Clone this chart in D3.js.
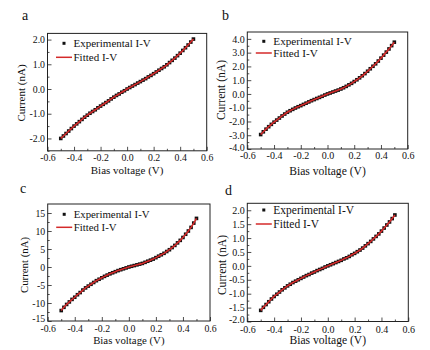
<!DOCTYPE html>
<html><head><meta charset="utf-8">
<script src="https://cdn.jsdelivr.net/npm/d3@7"></script>
<style>body{margin:0;background:#fff}svg{display:block}</style>
</head><body>
<svg id="c" width="430" height="350"></svg>
<script>
const voltage = [-0.50,-0.48,-0.46,-0.44,-0.42,-0.40,-0.38,-0.36,-0.34,-0.32,-0.30,-0.28,-0.26,-0.24,-0.22,-0.20,-0.18,-0.16,-0.14,-0.12,-0.10,-0.08,-0.06,-0.04,-0.02,0.00,0.02,0.04,0.06,0.08,0.10,0.12,0.14,0.16,0.18,0.20,0.22,0.24,0.26,0.28,0.30,0.32,0.34,0.36,0.38,0.40,0.42,0.44,0.46,0.48,0.50];
const currentA = [-2.00,-1.90,-1.80,-1.70,-1.60,-1.50,-1.41,-1.32,-1.23,-1.14,-1.06,-0.98,-0.91,-0.84,-0.76,-0.69,-0.62,-0.55,-0.48,-0.40,-0.33,-0.26,-0.20,-0.13,-0.07,0.00,0.06,0.12,0.18,0.24,0.30,0.36,0.42,0.49,0.55,0.62,0.69,0.76,0.83,0.90,0.98,1.07,1.16,1.25,1.35,1.45,1.56,1.67,1.78,1.90,2.02];
const currentB = [-2.95,-2.75,-2.56,-2.38,-2.21,-2.05,-1.90,-1.75,-1.60,-1.46,-1.33,-1.22,-1.12,-1.02,-0.93,-0.85,-0.76,-0.67,-0.58,-0.49,-0.41,-0.33,-0.25,-0.17,-0.08,0.00,0.07,0.14,0.21,0.28,0.36,0.45,0.55,0.66,0.77,0.90,1.03,1.17,1.32,1.48,1.65,1.83,2.01,2.19,2.39,2.60,2.82,3.04,3.27,3.51,3.76];
const currentC = [-12.1,-11.2,-10.4,-9.7,-9.0,-8.4,-7.7,-7.1,-6.4,-5.8,-5.3,-4.8,-4.3,-3.8,-3.4,-3.0,-2.6,-2.25,-1.9,-1.6,-1.3,-1.0,-0.75,-0.5,-0.25,0.0,0.2,0.4,0.6,0.8,1.0,1.3,1.6,1.9,2.2,2.6,3.0,3.4,3.8,4.3,4.8,5.4,6.0,6.7,7.4,8.2,9.1,10.0,11.0,12.2,13.5];
const currentD = [-1.60,-1.49,-1.39,-1.29,-1.19,-1.10,-1.02,-0.94,-0.86,-0.79,-0.72,-0.66,-0.60,-0.55,-0.50,-0.45,-0.40,-0.35,-0.31,-0.26,-0.22,-0.17,-0.13,-0.09,-0.04,0.00,0.04,0.08,0.12,0.16,0.20,0.25,0.29,0.34,0.40,0.45,0.51,0.57,0.64,0.72,0.80,0.88,0.97,1.06,1.15,1.25,1.36,1.47,1.58,1.70,1.83];

const xTicks = [-0.6,-0.4,-0.2,0.0,0.2,0.4,0.6];
const xMinor = [-0.5,-0.3,-0.1,0.1,0.3,0.5];
const yTicksA = [-2,-1,0,1,2];
const yMinorA = [-2.5,-1.5,-0.5,0.5,1.5];
const yTicksB = [-4,-3,-2,-1,0,1,2,3,4];
const yMinorB = [-3.5,-2.5,-1.5,-0.5,0.5,1.5,2.5,3.5];
const yTicksC = [-15,-10,-5,0,5,10,15];
const yMinorC = [-12.5,-7.5,-2.5,2.5,7.5,12.5];
const yTicksD = [-2,-1.5,-1,-0.5,0,0.5,1,1.5,2];
const yMinorD = [-1.75,-1.25,-0.75,-0.25,0.25,0.75,1.25,1.75];

const panelLetters = ["a","b","c","d"];
const legendLabels = ["Experimental I-V","Fitted I-V"];
const xTitle = "Bias voltage (V)";
const yTitle = "Current (nA)";

const panels = [
  {letter:panelLetters[0], y:currentA, yDom:[-2.5,2.25], yT:yTicksA, yM:yMinorA, fmt:".1f",
   L:47.5, R:206.7, T:33.4, B:150.8, fs:11, lfs:11, tfs:9.8, pad:3.5, xto:23, lx:22, ly:20, ytx:21.7, yty:93, leg:[43.3,57.3]},
  {letter:panelLetters[1], y:currentB, yDom:[-4,4.5], yT:yTicksB, yM:yMinorB, fmt:".1f",
   L:247.3, R:407.7, T:32, B:149, fs:11.6, lfs:11.2, tfs:10, pad:2.5, xto:25.5, lx:222, ly:20, ytx:221.7, yty:90, leg:[41.3,53]},
  {letter:panelLetters[2], y:currentC, yDom:[-15,17.5], yT:yTicksC, yM:yMinorC, fmt:"d",
   L:47.7, R:210, T:204, B:321, fs:10.8, lfs:10.8, tfs:9.8, pad:4.5, xto:23, lx:20, ly:193, ytx:24, yty:265, leg:[214.3,227.3]},
  {letter:panelLetters[3], y:currentD, yDom:[-2,2.25], yT:yTicksD, yM:yMinorD, fmt:".1f",
   L:247.3, R:408.3, T:203.3, B:321.5, fs:11.6, lfs:11.5, tfs:10, pad:4.5, xto:22.5, lx:225, ly:195, ytx:222, yty:265, leg:[210,224]}
];

const svg = d3.select("#c");
const font = "'Liberation Serif','Times New Roman',serif";
const fx = d3.format(".1f");
const xfmt = v => fx(v).replace("\u2212","-");

panels.forEach(p => {
  const x = d3.scaleLinear().domain([-0.6,0.6]).range([p.L,p.R]);
  const y = d3.scaleLinear().domain(p.yDom).range([p.B,p.T]);
  const g = svg.append("g");
  const f = d3.format(p.fmt);
  const yfmt = v => f(v).replace("\u2212","-");

  g.append("g").attr("transform",`translate(0,${p.B})`)
    .call(d3.axisBottom(x).tickValues(xMinor).tickSize(-2).tickFormat(""))
    .call(a=>a.select(".domain").remove());
  g.append("g").attr("transform",`translate(${p.L},0)`)
    .call(d3.axisLeft(y).tickValues(p.yM).tickSize(-2).tickFormat(""))
    .call(a=>a.select(".domain").remove());
  const xa = g.append("g").attr("transform",`translate(0,${p.B})`)
    .call(d3.axisBottom(x).tickValues(xTicks).tickSize(-4).tickPadding(p.pad).tickFormat(xfmt));
  xa.select(".domain").remove();
  xa.selectAll("text").attr("font-family",font).attr("font-size",p.tfs).attr("fill","#111");
  const ya = g.append("g").attr("transform",`translate(${p.L},0)`)
    .call(d3.axisLeft(y).tickValues(p.yT).tickSize(-4).tickPadding(2.5).tickFormat(yfmt));
  ya.select(".domain").remove();
  ya.selectAll("text").attr("font-family",font).attr("font-size",p.tfs).attr("fill","#111");
  // bottom-most y label sits slightly raised in the corner, as in the reference
  ya.selectAll(".tick text").filter(d => d === p.yDom[0]).attr("dy","0.1em");
  g.selectAll(".tick line").attr("stroke","#222").attr("stroke-width",0.8);

  g.append("rect").attr("x",p.L).attr("y",p.T).attr("width",p.R-p.L).attr("height",p.B-p.T)
    .attr("fill","none").attr("stroke","#222").attr("stroke-width",1);

  const data = voltage.map((v,i)=>({v, c:p.y[i]}));
  g.append("g").selectAll("rect").data(data).join("rect")
    .attr("x",d=>x(d.v)-1.8).attr("y",d=>y(d.c)-1.8).attr("width",3.6).attr("height",3.6)
    .attr("fill","#111");
  g.append("path").datum(data)
    .attr("d",d3.line().x(d=>x(d.v)).y(d=>y(d.c)).curve(d3.curveCatmullRom))
    .attr("fill","none").attr("stroke","#d42a2a").attr("stroke-width",1.6);

  g.append("rect").attr("x",p.L+16.5-1.5).attr("y",p.leg[0]-1.5).attr("width",3).attr("height",3).attr("fill","#111");
  g.append("text").attr("x",p.L+26).attr("y",p.leg[0]+3.6).attr("font-family",font).attr("font-size",p.lfs)
    .attr("fill","#111").text(legendLabels[0]);
  g.append("line").attr("x1",p.L+8.5).attr("x2",p.L+24.5).attr("y1",p.leg[1]).attr("y2",p.leg[1])
    .attr("stroke","#d42a2a").attr("stroke-width",1.5);
  g.append("text").attr("x",p.L+26).attr("y",p.leg[1]+3.6).attr("font-family",font).attr("font-size",p.lfs)
    .attr("fill","#111").text(legendLabels[1]);

  g.append("text").attr("x",(p.L+p.R)/2).attr("y",p.B+p.xto).attr("text-anchor","middle")
    .attr("font-family",font).attr("font-size",p.fs).attr("fill","#111").text(xTitle);
  g.append("text").attr("transform",`translate(${p.ytx+3.7},${p.yty}) rotate(-90)`).attr("text-anchor","middle")
    .attr("font-family",font).attr("font-size",p.fs).attr("fill","#111").text(yTitle);
  g.append("text").attr("x",p.lx).attr("y",p.ly).attr("font-family",font).attr("font-size",14)
    .attr("fill","#111").text(p.letter);
});
</script>
</body></html>
